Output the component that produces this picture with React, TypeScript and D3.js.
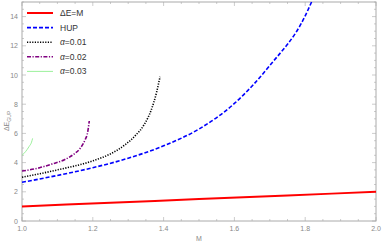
import React, { useEffect, useRef } from "react";
import * as d3 from "d3";

// values
const lineM = [1, 1.25, 1.5, 1.75, 2.0];
const lineE = [1, 1.25, 1.5, 1.75, 2.0];

const hupM = [1.0, 1.1, 1.2, 1.3, 1.4, 1.5, 1.6, 1.7, 1.8, 1.818];
const hupE = [2.65, 3.12, 3.65, 4.3, 5.15, 6.3, 8.05, 10.65, 14.05, 15.0];

const a1M = [1.0, 1.1, 1.2, 1.25, 1.29, 1.32, 1.345, 1.365, 1.38, 1.39];
const a1E = [3.0, 3.5, 4.12, 4.6, 5.2, 5.85, 6.6, 7.6, 8.8, 9.88];

const a2M = [1.0, 1.05, 1.088, 1.12, 1.145, 1.165, 1.178, 1.186, 1.19];
const a2E = [3.42, 3.65, 3.93, 4.2, 4.55, 5.0, 5.55, 6.15, 6.85];

const a3M = [1.0, 1.01, 1.02, 1.027, 1.03];
const a3E = [4.5, 4.75, 5.1, 5.4, 5.66];

const xTicks = [1.0, 1.2, 1.4, 1.6, 1.8, 2.0];
const yTicks = [0, 2, 4, 6, 8, 10, 12, 14];

const legendLabels = ["ΔE=M", "HUP", "α=0.01", "α=0.02", "α=0.03"];

export default function App() {
  const svgRef = useRef<SVGSVGElement | null>(null);

  useEffect(() => {
    const width = 382;
    const height = 244;
    const margin = { top: 2, right: 6, bottom: 23, left: 22 };
    const innerWidth = width - margin.left - margin.right;
    const innerHeight = height - margin.top - margin.bottom;

    const svg = d3.select(svgRef.current);
    svg.selectAll("*").remove();

    const x = d3.scaleLinear().domain([1, 2]).range([0, innerWidth]);
    const y = d3.scaleLinear().domain([0, 15]).range([innerHeight, 0]);

    const g = svg
      .append("g")
      .attr("transform", `translate(${margin.left},${margin.top})`);

    const frameColor = "#aaaaaa";
    const textColor = "#888888";

    // minor / major ticks pointing inward on all four sides
    const xMinor = d3.range(1, 2.0001, 0.05);
    const yMinor = d3.range(0, 15.0001, 0.5);
    xMinor.forEach((v, i) => {
      const len = i % 4 === 0 ? 4 : 2;
      g.append("line")
        .attr("x1", x(v)).attr("x2", x(v))
        .attr("y1", innerHeight).attr("y2", innerHeight - len)
        .attr("stroke", frameColor).attr("stroke-width", 0.6);
      g.append("line")
        .attr("x1", x(v)).attr("x2", x(v))
        .attr("y1", 0).attr("y2", len)
        .attr("stroke", frameColor).attr("stroke-width", 0.6);
    });
    yMinor.forEach((v, i) => {
      const len = i % 4 === 0 ? 4 : 2;
      g.append("line")
        .attr("x1", 0).attr("x2", len)
        .attr("y1", y(v)).attr("y2", y(v))
        .attr("stroke", frameColor).attr("stroke-width", 0.6);
      g.append("line")
        .attr("x1", innerWidth).attr("x2", innerWidth - len)
        .attr("y1", y(v)).attr("y2", y(v))
        .attr("stroke", frameColor).attr("stroke-width", 0.6);
    });

    g.append("rect")
      .attr("width", innerWidth)
      .attr("height", innerHeight)
      .attr("fill", "none")
      .attr("stroke", frameColor)
      .attr("stroke-width", 1);

    // tick labels
    g.selectAll(".xt")
      .data(xTicks)
      .enter()
      .append("text")
      .attr("x", (d) => x(d))
      .attr("y", innerHeight + 10)
      .attr("text-anchor", "middle")
      .attr("font-size", 7)
      .attr("fill", textColor)
      .text((d) => d.toFixed(1));

    g.selectAll(".yt")
      .data(yTicks)
      .enter()
      .append("text")
      .attr("x", -4)
      .attr("y", (d) => y(d) + 2.5)
      .attr("text-anchor", "end")
      .attr("font-size", 7)
      .attr("fill", textColor)
      .text((d) => String(d));

    // axis labels
    svg.append("text")
      .attr("x", 199)
      .attr("y", 241)
      .attr("text-anchor", "middle")
      .attr("font-size", 7)
      .attr("fill", textColor)
      .text("M");

    const yl = svg.append("text")
      .attr("transform", "translate(9,121) rotate(-90)")
      .attr("text-anchor", "middle")
      .attr("font-size", 7)
      .attr("fill", textColor);
    yl.append("tspan").text("ΔE");
    yl.append("tspan").attr("font-size", 5).attr("dy", 1.5).text("GUP");

    const line = d3
      .line<[number, number]>()
      .x((d) => x(d[0]))
      .y((d) => y(d[1]))
      .curve(d3.curveMonotoneX);

    const zip = (a: number[], b: number[]) =>
      a.map((v, i) => [v, b[i]] as [number, number]);

    const series = [
      { pts: zip(lineM, lineE), color: "#ff0000", w: 2, dash: "" },
      { pts: zip(hupM, hupE), color: "#0000ff", w: 1.6, dash: "4,2" },
      { pts: zip(a1M, a1E), color: "#000000", w: 1.6, dash: "1.2,1.4" },
      { pts: zip(a2M, a2E), color: "#800080", w: 1.6, dash: "4,1.5,1.2,1.5" },
      { pts: zip(a3M, a3E), color: "#90ee90", w: 0.9, dash: "" },
    ];

    series.forEach((s) => {
      g.append("path")
        .datum(s.pts)
        .attr("fill", "none")
        .attr("stroke", s.color)
        .attr("stroke-width", s.w)
        .attr("stroke-dasharray", s.dash || null)
        .attr("d", line);
    });

    // legend
    const lg = svg.append("g").attr("transform", "translate(27,13)");
    series.forEach((s, i) => {
      const row = lg.append("g").attr("transform", `translate(0,${i * 14.6})`);
      row.append("line")
        .attr("x1", 0).attr("x2", 26)
        .attr("y1", 0).attr("y2", 0)
        .attr("stroke", s.color)
        .attr("stroke-width", s.w)
        .attr("stroke-dasharray", s.dash || null);
      const t = row.append("text")
        .attr("x", 33)
        .attr("y", 3)
        .attr("font-size", 8.5)
        .attr("fill", "#333333");
      const label = legendLabels[i];
      if (label.startsWith("α")) {
        t.append("tspan").attr("font-style", "italic").text("α");
        t.append("tspan").text(label.slice(1));
      } else {
        t.text(label);
      }
    });
  }, []);

  return (
    <svg
      ref={svgRef}
      width={382}
      height={244}
      style={{ position: "absolute", left: 0, top: 0, fontFamily: "Liberation Sans, Arial, sans-serif" }}
    />
  );
}
